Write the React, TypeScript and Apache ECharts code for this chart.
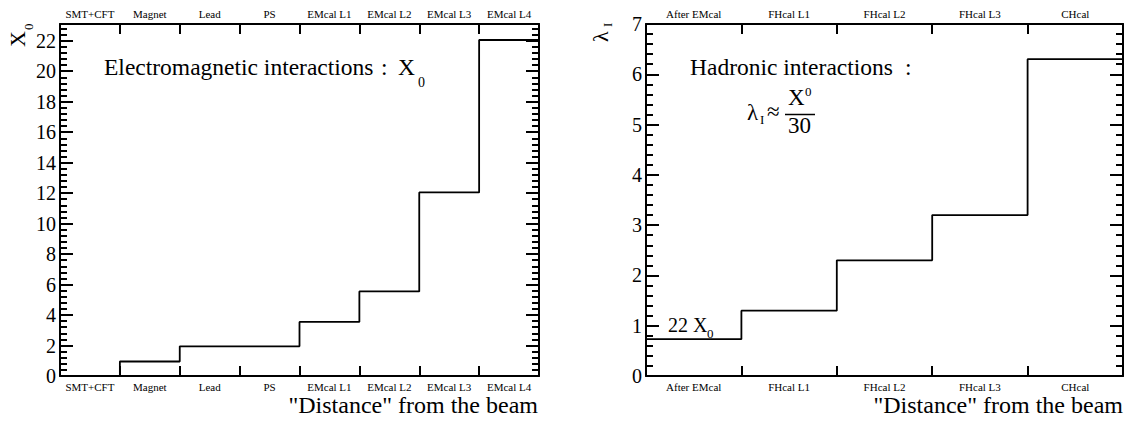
import React, { useEffect, useRef } from "react";
import * as echarts from "echarts";

const leftCategories = ["SMT+CFT", "Magnet", "Lead", "PS", "EMcal L1", "EMcal L2", "EMcal L3", "EMcal L4"];
const leftValues = [0, 0.95, 1.95, 1.95, 3.55, 5.55, 12.05, 22.05];
const leftYMax = 23.1;
const leftYInterval = 2;

const rightCategories = ["After EMcal", "FHcal L1", "FHcal L2", "FHcal L3", "CHcal"];
const rightValues = [0.733, 1.3, 2.3, 3.2, 6.3];
const rightYMax = 7;
const rightYInterval = 1;

const FONT = "Liberation Serif";
const BLACK = "#000";

function stepData(values: number[]) {
  const pts = values.map((v, i) => [i, v]);
  pts.push([values.length, values[values.length - 1]]);
  return pts;
}

// y is the baseline position
function txt(text: string, x: number, baseline: number, size: number, align = "left") {
  return {
    type: "text",
    x,
    y: baseline - 0.34 * size,
    style: {
      text,
      fontSize: size,
      fontFamily: FONT,
      fill: BLACK,
      align,
      verticalAlign: "middle",
      lineHeight: Math.round(size * 0.8),
    },
  };
}

export default function App() {
  const ref = useRef<HTMLDivElement>(null);
  useEffect(() => {
    document.body.style.margin = "0";
    const chart = echarts.init(ref.current!, undefined, { renderer: "svg" });
    const axisLine = { show: true, onZero: false, lineStyle: { color: BLACK, width: 2 } };
    const catAxis = (grid: number, data: string[], position: string, margin: number) => ({
      type: "category",
      gridIndex: grid,
      position,
      data,
      boundaryGap: true,
      axisLine,
      axisTick: { show: true, inside: true, length: 10, interval: 0, lineStyle: { color: BLACK, width: 2 } },
      axisLabel: { show: true, interval: 0, fontSize: 11, lineHeight: 10, fontFamily: FONT, color: BLACK, margin },
      splitLine: { show: false },
    });
    const valX = (grid: number, max: number) => ({
      type: "value",
      gridIndex: grid,
      min: 0,
      max,
      show: false,
      axisLine: { onZero: false },
    });
    const valY = (grid: number, max: number, interval: number, position: string, labels: boolean) => ({
      type: "value",
      gridIndex: grid,
      position,
      min: 0,
      max,
      interval,
      axisLine,
      axisTick: { show: true, inside: true, length: 13, lineStyle: { color: BLACK, width: 2 } },
      minorTick: { show: true, splitNumber: 5, length: 7, lineStyle: { color: BLACK, width: 2 } },
      axisLabel: {
        show: labels,
        fontSize: 20,
        fontFamily: FONT,
        color: BLACK,
        margin: 4,
        showMaxLabel: max % interval === 0,
      },
      splitLine: { show: false },
      minorSplitLine: { show: false },
    });

    chart.setOption({
      animation: false,
      backgroundColor: "#fff",
      textStyle: { fontFamily: FONT },
      grid: [
        { left: 60, top: 24, width: 479, height: 352 },
        { left: 646, top: 24, width: 477, height: 352 },
      ],
      xAxis: [
        catAxis(0, leftCategories, "bottom", 6),
        catAxis(0, leftCategories, "top", 5),
        valX(0, leftCategories.length),
        catAxis(1, rightCategories, "bottom", 6),
        catAxis(1, rightCategories, "top", 5),
        valX(1, rightCategories.length),
      ],
      yAxis: [
        valY(0, leftYMax, leftYInterval, "left", true),
        valY(0, leftYMax, leftYInterval, "right", false),
        valY(1, rightYMax, rightYInterval, "left", true),
        valY(1, rightYMax, rightYInterval, "right", false),
      ],
      series: [
        {
          type: "line",
          xAxisIndex: 2,
          yAxisIndex: 0,
          step: "end",
          data: stepData(leftValues),
          showSymbol: false,
          lineStyle: { color: BLACK, width: 1.8 },
          z: 5,
        },
        {
          type: "line",
          xAxisIndex: 5,
          yAxisIndex: 2,
          step: "end",
          data: stepData(rightValues),
          showSymbol: false,
          lineStyle: { color: BLACK, width: 1.8 },
          z: 5,
        },
      ],
      graphic: [
        txt("Electromagnetic interactions", 104, 75, 23.5),
        txt(":", 381, 75, 23.5),
        txt("X", 398, 75, 23.5),
        txt("0", 418, 87, 14),
        txt("Hadronic interactions", 690, 75, 23.5),
        txt(":", 905, 75, 23.5),
        txt("λ", 747, 120, 23),
        txt("I", 760, 124, 13),
        txt("≈", 767, 119, 23),
        txt("X", 788, 105, 23),
        txt("0", 805, 96, 13),
        {
          type: "line",
          shape: { x1: 785, y1: 114.5, x2: 815, y2: 114.5 },
          style: { stroke: BLACK, lineWidth: 1.5 },
        },
        txt("30", 788, 133, 23),
        txt("22 X", 668, 332, 20),
        txt("0", 707, 338, 13),
        txt('"Distance" from the beam', 538, 413, 24, "right"),
        txt('"Distance" from the beam', 1123, 413, 24, "right"),
        {
          type: "group",
          x: 25,
          y: 47,
          rotation: Math.PI / 2,
          children: [txt("X", 0, 0, 22), txt("0", 17, 8, 13)],
        },
        {
          type: "group",
          x: 608,
          y: 42,
          rotation: Math.PI / 2,
          children: [txt("λ", 0, 0, 22), txt("I", 15, 4, 13)],
        },
      ],
    });
    return () => chart.dispose();
  }, []);
  return <div ref={ref} style={{ width: 1131, height: 423 }} />;
}
